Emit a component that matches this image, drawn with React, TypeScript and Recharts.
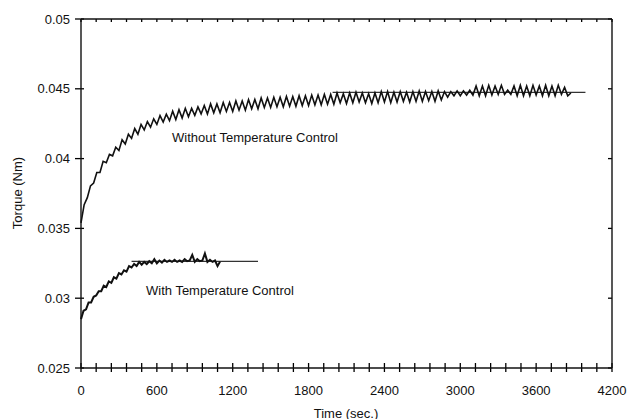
import { LineChart, Line, XAxis, YAxis, ReferenceLine } from 'recharts';

// sampling step of the logged torque (s)
const STEP_WITHOUT = 25;
const STEP_WITH = 20;

// torque (Nm) logged without temperature control, every 25 s from t = 0
const WITHOUT_TORQUE = [
  0.0354, 0.0367, 0.0372, 0.03805, 0.03825, 0.039, 0.039, 0.0398, 0.0397, 0.0403,
  0.0402, 0.04082, 0.04058, 0.04135, 0.04105, 0.04175, 0.04145, 0.04215, 0.04175, 0.04245,
  0.04205, 0.04265, 0.04225, 0.04285, 0.04245, 0.04308, 0.04262, 0.04318, 0.04272, 0.0434,
  0.0428, 0.0435, 0.0429, 0.0436, 0.043, 0.0436, 0.0431, 0.0437, 0.0432, 0.0438,
  0.0432, 0.04392, 0.04328, 0.04392, 0.04328, 0.04402, 0.04338, 0.04402, 0.04338, 0.04413,
  0.04347, 0.04413, 0.04347, 0.04423, 0.04357, 0.04423, 0.04357, 0.04434, 0.04366, 0.04434,
  0.04366, 0.04439, 0.04371, 0.04439, 0.04371, 0.04445, 0.04375, 0.04445, 0.04375, 0.0445,
  0.0438, 0.0445, 0.0438, 0.04455, 0.04385, 0.04455, 0.04385, 0.0446, 0.0439, 0.0446,
  0.0439, 0.0447, 0.044, 0.04465, 0.04395, 0.0447, 0.044, 0.04475, 0.04405, 0.0447,
  0.044, 0.04465, 0.04395, 0.0447, 0.044, 0.0448, 0.04405, 0.0448, 0.044, 0.04475,
  0.04405, 0.0448, 0.0441, 0.04475, 0.04405, 0.0448, 0.0441, 0.04485, 0.0441, 0.0448,
  0.04415, 0.0448, 0.0441, 0.04485, 0.0442, 0.0448, 0.0444, 0.0448, 0.0445, 0.04485,
  0.0445, 0.04485, 0.04455, 0.0449, 0.04455, 0.0452, 0.0445, 0.0452, 0.0445, 0.04525,
  0.04455, 0.0452, 0.0446, 0.04525, 0.0446, 0.0449, 0.0446, 0.0452, 0.0445, 0.04525,
  0.0445, 0.0452, 0.0445, 0.04525, 0.04455, 0.0452, 0.0445, 0.04525, 0.0445, 0.0452,
  0.0445, 0.04525, 0.0446, 0.0451, 0.0445, 0.0447,
];

// torque (Nm) logged with temperature control, every 20 s from t = 0
const WITH_TORQUE = [
  0.0285, 0.0291, 0.0292, 0.0297, 0.0297, 0.0301, 0.0302, 0.0305, 0.0305, 0.0309,
  0.0308, 0.0312, 0.0311, 0.0315, 0.0314, 0.0318, 0.0317, 0.032, 0.0319, 0.0323,
  0.0322, 0.03245, 0.0323, 0.0326, 0.0324, 0.0326, 0.03245, 0.03265, 0.0325, 0.0328,
  0.0325, 0.0327, 0.03255, 0.03275, 0.0326, 0.0327, 0.0326, 0.03275, 0.0326, 0.0327,
  0.0326, 0.0328, 0.03265, 0.0327, 0.0331, 0.0326, 0.0328, 0.03265, 0.0327, 0.0332,
  0.0326, 0.03275, 0.0326, 0.0327, 0.0323, 0.03262,
];

// steady-state lines: [start time, end time, torque]
const WITHOUT_STEADY = [1990, 3990, 0.04474];
const WITH_STEADY = [400, 1400, 0.03264];

const X_MIN = 0;
const X_MAX = 4200;
const Y_MIN = 0.025;
const Y_MAX = 0.05;
const X_MAJOR = [0, 600, 1200, 1800, 2400, 3000, 3600, 4200];
const X_MINOR_STEP = 120;
const Y_TICKS = [0.025, 0.03, 0.035, 0.04, 0.045, 0.05];

const toPoints = (values: number[], step: number) => values.map((v, i) => ({ t: i * step, v }));
const steady = (s: number[]) => [{ t: s[0], v: s[2] }, { t: s[1], v: s[2] }];

const xTicks = Array.from({ length: X_MAX / X_MINOR_STEP + 1 }, (_, i) => i * X_MINOR_STEP);

// plot is 531 px wide and 350 px tall; tick lengths expressed in axis units
const PX_X = (X_MAX - X_MIN) / 531;
const PX_Y = (Y_MAX - Y_MIN) / 350;

const FONT = '"Liberation Sans", Arial, sans-serif';
const INK = '#111';
const AXIS_LINE = { stroke: INK, strokeWidth: 1.4 };

function BottomLabel(props: any) {
  const x = Number(props.x);
  const y = Number(props.y);
  if (!X_MAJOR.includes(props.payload.value)) return <g />;
  return (
    <text x={x} y={y + 22} textAnchor="middle" dominantBaseline="central" fontSize={13} fontFamily={FONT} fill={INK}>
      {props.payload.value}
    </text>
  );
}

function LeftLabel(props: any) {
  const x = Number(props.x);
  const y = Number(props.y);
  return (
    <text x={x - 11} y={y} textAnchor="end" dominantBaseline="central" fontSize={13} fontFamily={FONT} fill={INK}>
      {String(props.payload.value)}
    </text>
  );
}

const NoLabel = () => <g />;

const textStyle: React.CSSProperties = {
  position: 'absolute',
  fontFamily: FONT,
  fontSize: 13,
  color: INK,
  whiteSpace: 'nowrap',
  lineHeight: '15px',
};

const tickProps = { stroke: '#000', strokeWidth: 1.3, ifOverflow: 'visible' as const };

export default function App() {
  return (
    <div style={{ position: 'absolute', left: 0, top: 0, width: 632, height: 419, background: '#fff' }}>
      <LineChart width={632} height={419} margin={{ top: 18, right: 19, bottom: 0, left: 0 }}>
        <XAxis
          dataKey="t"
          type="number"
          domain={[X_MIN, X_MAX]}
          ticks={xTicks}
          interval={0}
          height={51}
          tickSize={0}
          tickMargin={0}
          tickLine={false}
          tick={<BottomLabel />}
          axisLine={AXIS_LINE}
        />
        <XAxis
          xAxisId="top"
          orientation="top"
          dataKey="t"
          type="number"
          domain={[X_MIN, X_MAX]}
          ticks={X_MAJOR}
          height={1}
          tickSize={0}
          tickMargin={0}
          tickLine={false}
          tick={<NoLabel />}
          axisLine={AXIS_LINE}
        />
        <YAxis
          type="number"
          domain={[Y_MIN, Y_MAX]}
          ticks={Y_TICKS}
          interval={0}
          width={81}
          tickSize={0}
          tickMargin={0}
          tickLine={false}
          tick={<LeftLabel />}
          axisLine={AXIS_LINE}
        />
        <YAxis
          yAxisId="right"
          orientation="right"
          type="number"
          domain={[Y_MIN, Y_MAX]}
          ticks={Y_TICKS}
          width={1}
          tickSize={0}
          tickMargin={0}
          tickLine={false}
          tick={<NoLabel />}
          axisLine={AXIS_LINE}
        />

        {xTicks.map((t) => (
          <ReferenceLine
            key={`b${t}`}
            segment={[{ x: t, y: Y_MIN - 4 * PX_Y }, { x: t, y: Y_MIN + 5 * PX_Y }]}
            {...tickProps}
          />
        ))}
        {xTicks.map((t) => (
          <ReferenceLine
            key={`t${t}`}
            segment={[{ x: t, y: Y_MAX }, { x: t, y: Y_MAX - 3 * PX_Y }]}
            {...tickProps}
          />
        ))}
        {Y_TICKS.map((v) => (
          <ReferenceLine
            key={`l${v}`}
            segment={[{ x: X_MIN - 6 * PX_X, y: v }, { x: X_MIN + 3 * PX_X, y: v }]}
            {...tickProps}
          />
        ))}
        {Y_TICKS.map((v) => (
          <ReferenceLine
            key={`r${v}`}
            segment={[{ x: X_MAX - 4 * PX_X, y: v }, { x: X_MAX, y: v }]}
            {...tickProps}
          />
        ))}

        <Line
          xAxisId="top"
          yAxisId="right"
          data={steady(WITHOUT_STEADY)}
          dataKey="v"
          type="linear"
          stroke="#333"
          strokeWidth={1.3}
          dot={false}
          isAnimationActive={false}
        />
        <Line
          xAxisId="top"
          yAxisId="right"
          data={steady(WITH_STEADY)}
          dataKey="v"
          type="linear"
          stroke="#333"
          strokeWidth={1.3}
          dot={false}
          isAnimationActive={false}
        />
        <Line
          data={toPoints(WITHOUT_TORQUE, STEP_WITHOUT)}
          dataKey="v"
          type="linear"
          stroke={INK}
          strokeWidth={1.6}
          dot={false}
          isAnimationActive={false}
        />
        <Line
          data={toPoints(WITH_TORQUE, STEP_WITH)}
          dataKey="v"
          type="linear"
          stroke={INK}
          strokeWidth={2}
          dot={false}
          isAnimationActive={false}
        />
      </LineChart>
      <div style={{ ...textStyle, left: 172, top: 137, transform: 'translateY(-50%)' }}>Without Temperature Control</div>
      <div style={{ ...textStyle, left: 146, top: 290, transform: 'translateY(-50%)' }}>With Temperature Control</div>
      <div style={{ ...textStyle, left: 346, top: 413, transform: 'translate(-50%, -50%)' }}>Time (sec.)</div>
      <div style={{ ...textStyle, left: 17, top: 193, transform: 'translate(-50%, -50%) rotate(-90deg)' }}>Torque (Nm)</div>
    </div>
  );
}
